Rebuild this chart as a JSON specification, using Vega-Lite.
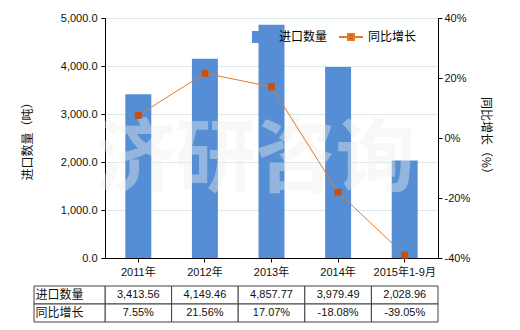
{
  "$schema": "https://vega.github.io/schema/vega-lite/v6.json",
  "padding": {"left": 21, "top": 12, "right": 5, "bottom": 5},
  "background": "white",
  "datasets": {
    "main": [
      {"年份": "2011年", "进口数量": 3413.56, "同比增长": 0.0755},
      {"年份": "2012年", "进口数量": 4149.46, "同比增长": 0.2156},
      {"年份": "2013年", "进口数量": 4857.77, "同比增长": 0.1707},
      {"年份": "2014年", "进口数量": 3979.49, "同比增长": -0.1808},
      {"年份": "2015年1-9月", "进口数量": 2028.96, "同比增长": -0.3905}
    ]
  },
  "config": {
    "font": "Liberation Sans, Noto Sans CJK SC, sans-serif",
    "view": {"stroke": null},
    "locale": {"number": {"decimal": ".", "thousands": ",", "grouping": [3], "currency": ["", ""], "minus": "-"}},
    "axis": {
      "labelColor": "#111111", "titleColor": "#111111", "domainColor": "#000000", "tickColor": "#000000",
      "labelFontSize": 11, "titleFontSize": 12, "titleFontWeight": "normal", "tickSize": 4,
      "labelFont": "Liberation Sans, Noto Sans CJK SC", "titleFont": "Noto Sans CJK SC"
    },
    "legend": {"labelFontSize": 12, "labelFont": "Noto Sans CJK SC", "labelColor": "#000000", "padding": 0}
  },
  "resolve": {"scale": {"x": "independent", "y": "independent"}},
  "spacing": 8,
  "vconcat": [
    {
      "width": 333,
      "height": 240,
      "data": {"name": "main"},
      "resolve": {"scale": {"y": "independent"}},
      "layer": [
        {
          "layer": [
            {
              "mark": {"type": "bar"},
              "encoding": {
                "x": {"field": "年份", "type": "nominal", "sort": null,
                  "scale": {"paddingInner": 0.61, "paddingOuter": 0.305},
                  "axis": {"title": null, "labelAngle": 0, "labelPadding": 4}},
                "y": {"field": "进口数量", "type": "quantitative", "scale": {"domain": [0, 5000]},
                  "axis": {"title": "进口数量（吨）", "values": [0, 1000, 2000, 3000, 4000, 5000], "format": ",.1f",
                    "grid": true, "gridColor": "#DAEAE9", "titleX": -71, "titleAngle": -90, "titleBaseline": "bottom", "labelPadding": 4}},
                "fill": {"datum": "进口数量", "type": "nominal", "scale": {"range": ["#558ED5"]},
                  "legend": {"orient": "none", "legendX": 146, "legendY": 12, "symbolType": "square", "symbolSize": 144, "labelOffset": 14, "title": null}}
              }
            },
            {
              "data": {"values": [{"水印": "济研咨询"}]},
              "mark": {"type": "text", "fontSize": 80, "fontWeight": "bold", "font": "Noto Sans CJK SC", "color": "#F0F0EC", "opacity": 0.4, "dx": -16, "baseline": "middle", "align": "center"},
              "encoding": {
                "x": {"datum": "2013年", "type": "nominal"},
                "y": {"datum": 2020, "type": "quantitative"},
                "text": {"field": "水印", "type": "nominal"}
              }
            }
          ]
        },
        {
          "layer": [
            {
              "mark": {"type": "line", "strokeWidth": 1},
              "encoding": {
                "x": {"field": "年份", "type": "nominal", "sort": null},
                "y": {"field": "同比增长", "type": "quantitative", "scale": {"domain": [-0.4, 0.4]},
                  "axis": {"orient": "right", "title": "同比增长（%）", "values": [-0.4, -0.2, 0, 0.2, 0.4], "format": ".0%",
                    "grid": false, "titleX": 40, "titleAngle": 90, "titleBaseline": "bottom", "labelPadding": 2}},
                "stroke": {"datum": "同比增长", "type": "nominal", "scale": {"range": ["#E07A2E"]},
                  "legend": {"orient": "none", "legendX": 233, "legendY": 6, "symbolType": "M-1,0H1M-0.25,-0.25H0.25V0.25H-0.25Z", "symbolSize": 576, "symbolStrokeWidth": 2, "symbolFillColor": "#C8500F", "labelOffset": 4, "title": null}}
              }
            },
            {
              "mark": {"type": "point", "shape": "square", "filled": true, "size": 49, "color": "#C8500F", "opacity": 1},
              "encoding": {
                "x": {"field": "年份", "type": "nominal", "sort": null},
                "y": {"field": "同比增长", "type": "quantitative"}
              }
            }
          ]
        }
      ]
    },
    {
      "width": 333,
      "height": 36,
      "resolve": {"scale": {"x": "independent"}},
      "layer": [
        {
          "data": {"name": "main"},
          "transform": [{"fold": ["进口数量", "同比增长"], "as": ["项目", "数值"]}],
          "mark": {"type": "rect", "fill": "white", "stroke": "#404040", "strokeWidth": 1},
          "encoding": {
            "x": {"field": "年份", "type": "nominal", "sort": null, "scale": {"paddingInner": 0, "paddingOuter": 0}, "axis": null},
            "y": {"field": "项目", "type": "nominal", "scale": {"domain": ["进口数量", "同比增长"], "paddingInner": 0, "paddingOuter": 0}, "axis": null}
          }
        },
        {
          "data": {"values": [{"项目": "进口数量"}, {"项目": "同比增长"}]},
          "mark": {"type": "rect", "fill": "white", "stroke": "#404040", "strokeWidth": 1},
          "encoding": {
            "x": {"datum": "表头", "type": "nominal", "scale": {"range": [-71, 0], "paddingInner": 0, "paddingOuter": 0}, "axis": null},
            "y": {"field": "项目", "type": "nominal", "scale": {"domain": ["进口数量", "同比增长"], "paddingInner": 0, "paddingOuter": 0}, "axis": null}
          }
        },
        {
          "data": {"values": [{"项目": "进口数量"}, {"项目": "同比增长"}]},
          "mark": {"type": "text", "align": "left", "baseline": "middle", "dx": -34, "fontSize": 12, "font": "Noto Sans CJK SC", "color": "#111111"},
          "encoding": {
            "x": {"datum": "表头", "type": "nominal", "scale": {"range": [-71, 0], "paddingInner": 0, "paddingOuter": 0}, "axis": null},
            "y": {"field": "项目", "type": "nominal", "scale": {"domain": ["进口数量", "同比增长"], "paddingInner": 0, "paddingOuter": 0}, "axis": null},
            "text": {"field": "项目", "type": "nominal"}
          }
        },
        {
          "data": {"name": "main"},
          "mark": {"type": "text", "align": "center", "baseline": "middle", "fontSize": 11, "color": "#111111"},
          "encoding": {
            "x": {"field": "年份", "type": "nominal", "sort": null, "scale": {"paddingInner": 0, "paddingOuter": 0}, "axis": null},
            "y": {"datum": "进口数量", "type": "nominal", "scale": {"domain": ["进口数量", "同比增长"], "paddingInner": 0, "paddingOuter": 0}, "axis": null},
            "text": {"field": "进口数量", "type": "quantitative", "format": ",.2f"}
          }
        },
        {
          "data": {"name": "main"},
          "mark": {"type": "text", "align": "center", "baseline": "middle", "fontSize": 11, "color": "#111111"},
          "encoding": {
            "x": {"field": "年份", "type": "nominal", "sort": null, "scale": {"paddingInner": 0, "paddingOuter": 0}, "axis": null},
            "y": {"datum": "同比增长", "type": "nominal", "scale": {"domain": ["进口数量", "同比增长"], "paddingInner": 0, "paddingOuter": 0}, "axis": null},
            "text": {"field": "同比增长", "type": "quantitative", "format": ".2%"}
          }
        }
      ]
    }
  ]
}
